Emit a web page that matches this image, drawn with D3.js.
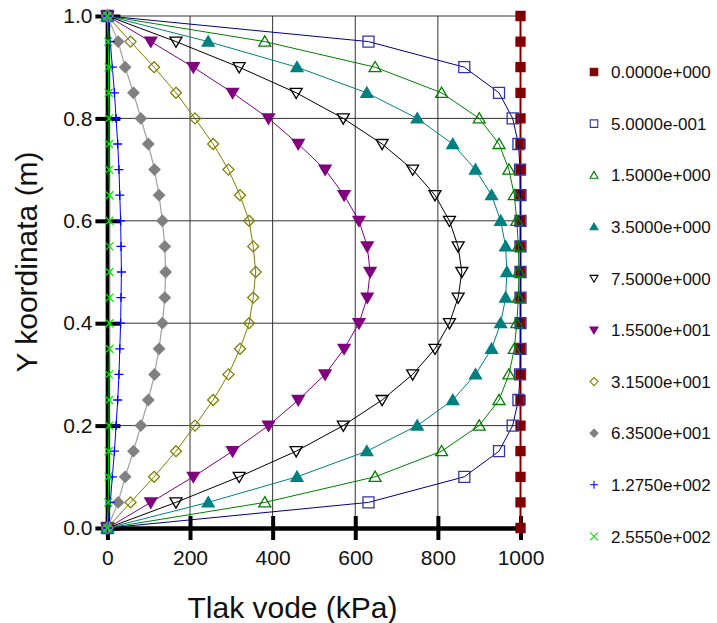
<!DOCTYPE html>
<html><head><meta charset="utf-8">
<script src="https://cdn.jsdelivr.net/npm/d3@7"></script>
<style>
body{margin:0;background:#fff}
svg text{font-family:"Liberation Sans",Arial,sans-serif;fill:#111}
</style>
</head><body>
<svg id="chart" width="717" height="623"></svg>
<script>
// ---------- data ----------
const yCoords = [0, 0.05, 0.1, 0.15, 0.2, 0.25, 0.3, 0.35, 0.4, 0.45, 0.5, 0.55, 0.6, 0.65, 0.7, 0.75, 0.8, 0.85, 0.9, 0.95, 1.0];
const seriesNames = ["0.0000e+000", "5.0000e-001", "1.5000e+000", "3.5000e+000", "7.5000e+000",
                     "1.5500e+001", "3.1500e+001", "6.3500e+001", "1.2750e+002", "2.5550e+002"];
const s0 = [1000,1000,1000,1000,1000,1000,1000,1000,1000,1000,1000,1000,1000,1000,1000,1000,1000,1000,1000,1000,1000];
const s1 = [0,632,864,948,981,995,999,1000,1000,1000,1000,1000,1000,1000,999,995,981,948,864,632,0];
const s2 = [0,381,648,809,900,948,972,985,991,995,996,995,991,985,972,948,900,809,648,381,0];
const s3 = [0,244,459,628,750,836,891,930,952,964,967,964,952,930,891,836,750,628,459,244,0];
const s4 = [0,166,319,457,571,665,739,793,828,849,858,849,828,793,739,665,571,457,319,166,0];
const s5 = [0,105,208,303,390,462,527,573,609,629,636,629,609,573,527,462,390,303,208,105,0];
const s6 = [0,56,113,166,212,256,293,321,343,353,359,353,343,321,293,256,212,166,113,56,0];
const s7 = [0,26,43,63,81,99,114,125,133,139,141,139,133,125,114,99,81,63,43,26,0];
const s8 = [0,7,12,17,21,25,28,30,32,33,34,33,32,30,28,25,21,17,12,7,0];
const s9 = [0,2,3,3,4,4,4,5,5,5,5,5,5,5,4,4,4,3,3,2,0];
const seriesValues = [s0, s1, s2, s3, s4, s5, s6, s7, s8, s9];
const xTicks = [0, 200, 400, 600, 800, 1000];
const yTicks = [0, 0.2, 0.4, 0.6, 0.8, 1.0];
const xTitle = "Tlak vode (kPa)";
const yTitle = "Y koordinata (m)";

// ---------- styles ----------
const styles = [
  {shape:"square",  fill:"#800000", stroke:"#800000", line:"#800000", lw:2,   size:9},
  {shape:"square",  fill:"none",    stroke:"#3333aa", line:"#000080", lw:1,   size:11},
  {shape:"tri",     fill:"none",    stroke:"#008000", line:"#008000", lw:1,   size:12},
  {shape:"tri",     fill:"#008080", stroke:"#008080", line:"#008080", lw:1,   size:12},
  {shape:"tridown", fill:"none",    stroke:"#000000", line:"#000000", lw:1,   size:12},
  {shape:"tridown", fill:"#800080", stroke:"#800080", line:"#800080", lw:1,   size:12},
  {shape:"diamond", fill:"none",    stroke:"#808000", line:"#808000", lw:1,   size:11},
  {shape:"diamond", fill:"#808080", stroke:"#808080", line:"#a0a0a0", lw:1.2, size:11},
  {shape:"plus",    fill:"none",    stroke:"#0000ff", line:"#0000ff", lw:1,   size:9},
  {shape:"times",   fill:"none",    stroke:"#00ee00", line:"#00dd00", lw:1,   size:8}
];
function shapePath(shape, s) {
  const h = s / 2;
  switch (shape) {
    case "square":  return `M${-h},${-h}h${s}v${s}h${-s}Z`;
    case "tri":     return `M0,${-h*0.95}L${h},${h*0.75}L${-h},${h*0.75}Z`;
    case "tridown": return `M0,${h*0.95}L${h},${-h*0.75}L${-h},${-h*0.75}Z`;
    case "diamond": return `M0,${-h}L${h},0L0,${h}L${-h},0Z`;
    case "plus":    return `M${-h},0H${h}M0,${-h}V${h}`;
    case "times":   return `M${-h},${-h}L${h},${h}M${-h},${h}L${h},${-h}`;
  }
}

// ---------- layout ----------
const svg = d3.select("#chart");
svg.append("rect").attr("width", 717).attr("height", 623).attr("fill", "#fff");
const x = d3.scaleLinear().domain([0, 1000]).range([107.4, 520.5]);
const y = d3.scaleLinear().domain([0, 1]).range([528, 16]);

// grid
const grid = svg.append("g");
grid.selectAll("line.gx").data(xTicks.filter(d => d > 0)).join("line")
  .attr("x1", d => x(d)).attr("x2", d => x(d)).attr("y1", y(0)).attr("y2", y(1))
  .attr("stroke", "#333").attr("stroke-width", 1);
grid.selectAll("line.gy").data(yTicks.filter(d => d > 0)).join("line")
  .attr("x1", x(0)).attr("x2", x(1000)).attr("y1", d => y(d)).attr("y2", d => y(d))
  .attr("stroke", "#333").attr("stroke-width", 1);

// axes
const fy = d3.format(".1f");
const gx = svg.append("g").attr("transform", `translate(0,${y(0)})`)
  .call(d3.axisBottom(x).tickValues(xTicks).tickFormat(d3.format("d")).tickSize(12).tickPadding(10).tickSizeOuter(0));
const gy = svg.append("g").attr("transform", `translate(${x(0)},0)`)
  .call(d3.axisLeft(y).tickValues(yTicks).tickFormat(fy).tickSize(12).tickPadding(3).tickSizeOuter(0));
[gx, gy].forEach(g => {
  g.select(".domain").attr("stroke", "#000").attr("stroke-width", 4.5);
  g.selectAll(".tick line").attr("stroke", "#000").attr("stroke-width", 4);
  g.selectAll(".tick text").attr("font-size", 21).attr("fill", "#111")
    .style("font-family", '"Liberation Sans",Arial,sans-serif');
});
gx.selectAll(".tick line").attr("y1", -12);
gy.selectAll(".tick line").attr("x1", 13);

// series
const lineGen = d3.line().x(d => x(d[0])).y(d => y(d[1]));
seriesValues.forEach((vals, i) => {
  const st = styles[i];
  const pts = vals.map((v, j) => [v, yCoords[j]]);
  const g = svg.append("g");
  g.append("path").attr("d", lineGen(pts)).attr("fill", "none")
    .attr("stroke", st.line).attr("stroke-width", st.lw);
  g.selectAll("path.m").data(pts).join("path").attr("class", "m")
    .attr("transform", d => `translate(${x(d[0])},${y(d[1])})`)
    .attr("d", shapePath(st.shape, st.size))
    .attr("fill", st.fill).attr("stroke", st.stroke).attr("stroke-width", 1.3);
});

// legend
const leg = svg.append("g");
seriesNames.forEach((name, i) => {
  const st = styles[i];
  const ly = 72 + i * 51.6;
  leg.append("path").attr("transform", `translate(594,${ly})`)
    .attr("d", shapePath(st.shape, st.shape === "square" ? 7.5 : 8))
    .attr("fill", st.fill).attr("stroke", st.stroke).attr("stroke-width", 1.1);
  leg.append("text").attr("x", 611).attr("y", ly).attr("dy", "0.36em")
    .attr("font-size", 17).text(name);
});

// titles
svg.append("text").attr("x", 292.5).attr("y", 618).attr("text-anchor", "middle")
  .attr("font-size", 30).text(xTitle);
svg.append("text").attr("transform", "translate(37,262) rotate(-90)").attr("text-anchor", "middle")
  .attr("font-size", 30).text(yTitle);
</script>
</body></html>
